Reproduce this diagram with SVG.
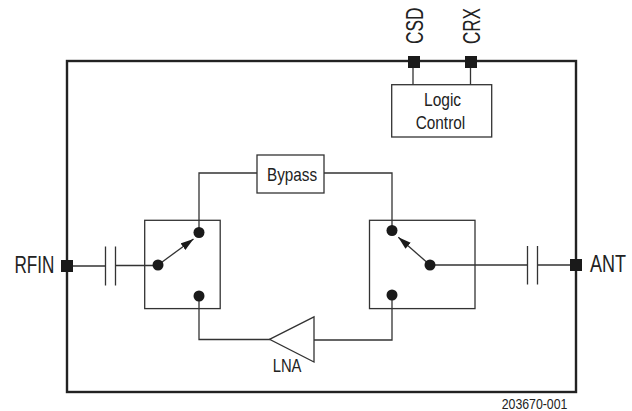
<svg xmlns="http://www.w3.org/2000/svg" width="632" height="411" viewBox="0 0 632 411">
<style>
.box{fill:#fff;stroke:#333;stroke-width:1.3}
.w{fill:none;stroke:#333;stroke-width:1.3}
.t{font-family:"Liberation Sans",Arial,sans-serif;fill:#222;text-anchor:start}
.dot{fill:#1a1a1a}
.pin{fill:#1a1a1a}
</style>
<defs>
<marker id="ah" markerUnits="userSpaceOnUse" markerWidth="14" markerHeight="10" refX="13" refY="4" orient="auto"><path d="M0,0 L13,4 L0,8 Z" fill="#1a1a1a"/></marker>
</defs>
<rect width="632" height="411" fill="#fff"/>
<g id="chip"><rect x="67" y="61" width="509" height="331" fill="none" stroke="#222" stroke-width="2.4"/></g>
<g id="connectors">
<path class="w" d="M67 266H105.500M115.500 265.500H158"/>
<path class="w" d="M105.500 246.500V285.500M115.500 246.500V285.500"/>
<path class="w" d="M430 265H527.500M537.500 265H576"/>
<path class="w" d="M527.500 246V284.500M537.500 246V284.500"/>
<path class="w" d="M199 232V173H257M324 173H392V230"/>
<path class="w" d="M199 296V339.500H270M314 340H392V295"/>
<path class="w" d="M413 61V85M470.500 61V85"/>
<path class="w" d="M158 265L193.500 239" marker-end="url(#ah)"/>
<path class="w" d="M430 265L398.300 237.300" marker-end="url(#ah)"/>
</g>
<g id="switch-left"><rect class="box" x="144.700" y="220.300" width="75.500" height="88.300" style="fill:none"/><circle class="dot" cx="158" cy="265" r="5.500"/><circle class="dot" cx="199" cy="232.500" r="5.500"/><circle class="dot" cx="199" cy="296" r="5.500"/></g>
<g id="switch-right"><rect class="box" x="369.500" y="220.300" width="105.500" height="88.300" style="fill:none"/><circle class="dot" cx="430" cy="265" r="5.500"/><circle class="dot" cx="392" cy="230.500" r="5.500"/><circle class="dot" cx="392" cy="295" r="5.500"/></g>
<g id="bypass"><rect class="box" x="257" y="155" width="67" height="38"/><text class="t" transform="translate(267 181) scale(.85 1)" font-size="18">Bypass</text></g>
<g id="logic"><rect class="box" x="391.700" y="84.700" width="100" height="52.300"/><text class="t" transform="translate(424 106) scale(.84 1)" font-size="18.500">Logic</text><text class="t" transform="translate(415.700 129) scale(.83 1)" font-size="18.500">Control</text></g>
<g id="lna"><path class="box" d="M269.500 339.300L314 316.800V362Z"/><text class="t" transform="translate(272.700 371.700) scale(.8 1)" font-size="18.500">LNA</text></g>
<g id="pin-rfin"><rect class="pin" x="61" y="260" width="12" height="12"/><text class="t" transform="translate(14.500 273.300) scale(.714 1)" font-size="24">RFIN</text></g>
<g id="pin-ant"><rect class="pin" x="570" y="259" width="12" height="12"/><text class="t" transform="translate(590 272) scale(.75 1)" font-size="24">ANT</text></g>
<g id="pin-csd"><rect class="pin" x="408" y="56" width="12" height="12"/><text class="t" transform="translate(423.300 44) rotate(-90) scale(.72 1)" font-size="24">CSD</text></g>
<g id="pin-crx"><rect class="pin" x="465" y="56" width="12" height="12"/><text class="t" transform="translate(480.300 44) rotate(-90) scale(.71 1)" font-size="24">CRX</text></g>
<text class="t" transform="translate(501.700 409) scale(.88 1)" font-size="14">203670-001</text>
</svg>
